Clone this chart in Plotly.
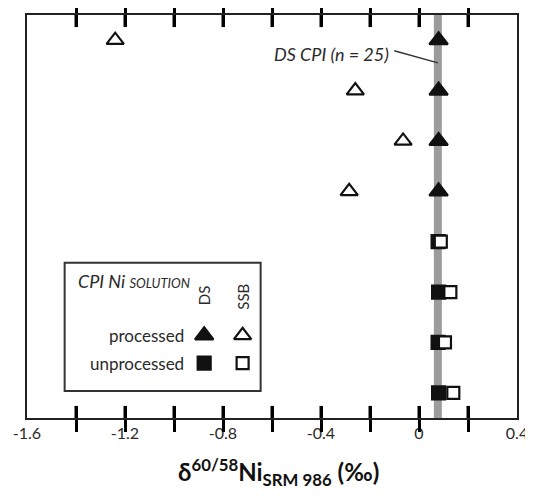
import plotly.graph_objects as go

# ---- data ----
proc_rows = [8, 7, 6, 5]
proc_ds = [0.08, 0.08, 0.08, 0.08]
proc_ssb = [-1.24, -0.26, -0.065, -0.285]
unproc_rows = [4, 3, 2, 1]
unproc_ds = [0.078, 0.08, 0.078, 0.08]
unproc_ssb = [0.089, 0.128, 0.106, 0.14]
ds_cpi_mean = 0.077
tick_vals = [-1.6, -1.4, -1.2, -1.0, -0.8, -0.6, -0.4, -0.2, 0.0, 0.2, 0.4]
tick_text = ["-1.6", " ", "-1.2", " ", "-0.8", " ", "-0.4", " ", "0", " ", "0.4"]

FONT = "Lato"
INK = "#111111"
TXT = "#2a2a2a"

fig = go.Figure()

def add(x, y, symbol, filled, size, xa="x", ya="y"):
    fig.add_trace(go.Scatter(
        x=x, y=y, mode="markers", xaxis=xa, yaxis=ya, showlegend=False,
        marker=dict(symbol=symbol, size=size,
                    color=INK if filled else "white",
                    line=dict(color=INK, width=2.2)),
        cliponaxis=False, hoverinfo="skip"))

add(proc_ds, proc_rows, "triangle-up", True, 16)
add(unproc_ds, unproc_rows, "square", True, 13)
add(proc_ssb, proc_rows, "triangle-up", False, 15)
add(unproc_ssb, unproc_rows, "square", False, 12)

# legend glyphs on an overlay axis (fractions of plot area)
leg_cols = [0.3616, 0.440]
leg_rows = [0.205, 0.136]
add([leg_cols[0]], [leg_rows[0]], "triangle-up", True, 16, "x2", "y2")
add([leg_cols[1]], [leg_rows[0]], "triangle-up", False, 15, "x2", "y2")
add([leg_cols[0]], [leg_rows[1]], "square", True, 13, "x2", "y2")
add([leg_cols[1]], [leg_rows[1]], "square", False, 12, "x2", "y2")

# inward ticks drawn as a trace of vertical segments (top and bottom)
tx, ty = [], []
for tv in tick_vals[1:-1]:
    tx += [tv, tv, None, tv, tv, None]
    ty += [0.0, 0.03, None, 0.97, 1.0, None]
fig.add_trace(go.Scatter(x=tx, y=ty, mode="lines", xaxis="x", yaxis="y2",
                         line=dict(color="#000000", width=3), showlegend=False,
                         hoverinfo="skip", cliponaxis=False))

# DS CPI band
fig.add_shape(type="line", xref="x", yref="paper", x0=ds_cpi_mean, x1=ds_cpi_mean,
              y0=0, y1=1, line=dict(color="#9c9c9c", width=8), layer="below")
# leader line
fig.add_shape(type="line", xref="x", yref="y", x0=-0.101, y0=7.79, x1=ds_cpi_mean, y1=7.55,
              line=dict(color="#333333", width=1.5))
# legend box
fig.add_shape(type="rect", xref="paper", yref="paper", x0=0.0768, x1=0.4768,
              y0=0.0667, y1=0.385, line=dict(color="#333333", width=2),
              fillcolor="rgba(0,0,0,0)")

ann = [
    dict(text="<i>DS CPI (n = 25)</i>", x=-0.115, y=7.73, xref="x", yref="y",
         xanchor="right", yanchor="middle", font=dict(size=18, color=TXT)),
    dict(text="<i>CPI Ni <span style='font-size:13px'>SOLUTION</span></i>", x=0.099, y=0.3407,
         xref="paper", yref="paper", xanchor="left", yanchor="middle",
         font=dict(size=18, color=TXT)),
    dict(text="DS", x=0.3616, y=0.305, xref="paper", yref="paper", textangle=-90,
         xanchor="center", yanchor="middle", font=dict(size=15, color=TXT)),
    dict(text="SSB", x=0.440, y=0.300, xref="paper", yref="paper", textangle=-90,
         xanchor="center", yanchor="middle", font=dict(size=15, color=TXT)),
    dict(text="processed", x=0.325, y=0.205, xref="paper", yref="paper",
         xanchor="right", yanchor="middle", font=dict(size=17, color=TXT)),
    dict(text="unprocessed", x=0.325, y=0.136, xref="paper", yref="paper",
         xanchor="right", yanchor="middle", font=dict(size=17, color=TXT)),
    dict(text="<b>δ<sup>60/58</sup>Ni<sub>SRM 986</sub> (‰)</b>", x=0.513, y=-0.135,
         xref="paper", yref="paper", xanchor="center", yanchor="middle",
         font=dict(size=24, color="#111111")),
]
for a in ann:
    a["showarrow"] = False
    fig.add_annotation(**a)

# page body has an 8px default margin, so the figure is 8px smaller and shifted
fig.update_layout(
    width=525, height=490,
    margin=dict(l=16, r=14, t=5, b=80),
    paper_bgcolor="white", plot_bgcolor="white",
    font=dict(family=FONT, color=TXT),
    xaxis=dict(range=[-1.6, 0.4], tickvals=tick_vals, ticktext=tick_text,
               ticks="inside", ticklen=12, tickwidth=3, tickcolor="#000",
               showline=True, linewidth=2, linecolor="#222", mirror="allticks",
               showgrid=False, zeroline=False,
               tickfont=dict(size=16, color=TXT, family=FONT)),
    yaxis=dict(range=[0.5, 8.5], showticklabels=False, ticks="",
               showline=True, linewidth=2, linecolor="#222", mirror=True,
               showgrid=False, zeroline=False),
    xaxis2=dict(range=[0, 1], overlaying="x", visible=False),
    yaxis2=dict(range=[0, 1], overlaying="y", visible=False),
)

fig.write_html("out.html")
